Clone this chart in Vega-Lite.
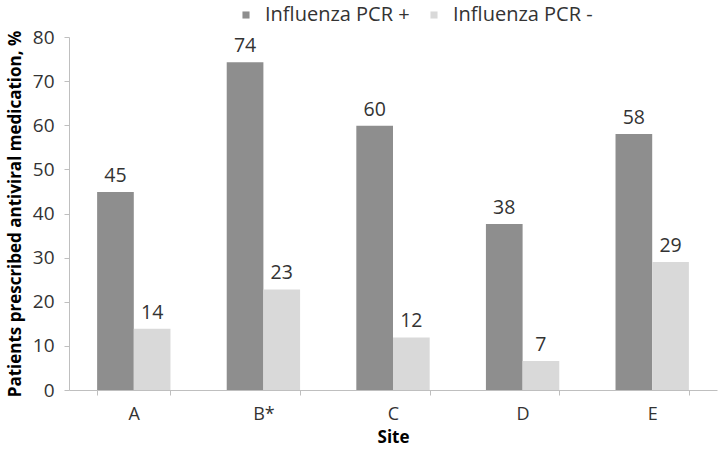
{
  "$schema": "https://vega.github.io/schema/vega-lite/v6.json",
  "width": 648,
  "height": 353,
  "autosize": {"type": "none"},
  "padding": {"left": 69, "top": 37, "right": 3, "bottom": 60},
  "background": "white",
  "config": {
    "view": {"stroke": null},
    "font": "Open Sans",
    "axis": {"domainColor": "#bfbfbf", "tickColor": "#bfbfbf", "labelColor": "#333333", "titleColor": "#000000", "grid": false, "labelFont": "Open Sans", "titleFont": "Open Sans"}
  },
  "data": {
    "values": [
      {"site": "A", "group": "Influenza PCR +", "value": 44.9, "label": "45"},
      {"site": "A", "group": "Influenza PCR -", "value": 13.9, "label": "14"},
      {"site": "B*", "group": "Influenza PCR +", "value": 74.3, "label": "74"},
      {"site": "B*", "group": "Influenza PCR -", "value": 22.8, "label": "23"},
      {"site": "C", "group": "Influenza PCR +", "value": 59.9, "label": "60"},
      {"site": "C", "group": "Influenza PCR -", "value": 11.9, "label": "12"},
      {"site": "D", "group": "Influenza PCR +", "value": 37.6, "label": "38"},
      {"site": "D", "group": "Influenza PCR -", "value": 6.6, "label": "7"},
      {"site": "E", "group": "Influenza PCR +", "value": 58.0, "label": "58"},
      {"site": "E", "group": "Influenza PCR -", "value": 29.0, "label": "29"}
    ]
  },
  "encoding": {
    "x": {
      "field": "site", "type": "nominal", "sort": ["A", "B*", "C", "D", "E"],
      "scale": {"paddingInner": 0.434, "paddingOuter": 0.217},
      "axis": {"title": "Site", "labelAngle": 0, "labelFontSize": 18, "labelPadding": 10, "tickBand": "extent", "tickSize": 5, "titleFontSize": 17, "titleFontWeight": "bold", "titlePadding": 6}
    },
    "xOffset": {"field": "group", "type": "nominal", "sort": ["Influenza PCR +", "Influenza PCR -"], "scale": {"paddingInner": 0, "paddingOuter": 0}},
    "y": {
      "field": "value", "type": "quantitative",
      "scale": {"domain": [0, 80], "nice": false},
      "axis": {"title": "Patients prescribed antiviral medication, %", "values": [0,10,20,30,40,50,60,70,80], "labelFontSize": 19, "labelPadding": 10, "tickSize": 5, "titleFontSize": 17, "titleFontWeight": "bold", "titlePadding": 8}
    }
  },
  "layer": [
    {
      "mark": {"type": "bar"},
      "encoding": {
        "color": {
          "field": "group", "type": "nominal",
          "scale": {"domain": ["Influenza PCR +", "Influenza PCR -"], "range": ["#8e8e8e", "#d9d9d9"]},
          "legend": {"title": null, "orient": "none", "legendX": 167, "legendY": -32, "direction": "horizontal", "symbolType": "square", "symbolSize": 50, "symbolStrokeWidth": 0, "labelFontSize": 20, "labelColor": "#333333", "labelOffset": 9, "columnPadding": 14, "labelFont": "Open Sans"}
        }
      }
    },
    {
      "mark": {"type": "text", "baseline": "alphabetic", "dy": -10, "fontSize": 19.5, "color": "#333333", "font": "Open Sans"},
      "encoding": {"text": {"field": "label"}}
    }
  ]
}
